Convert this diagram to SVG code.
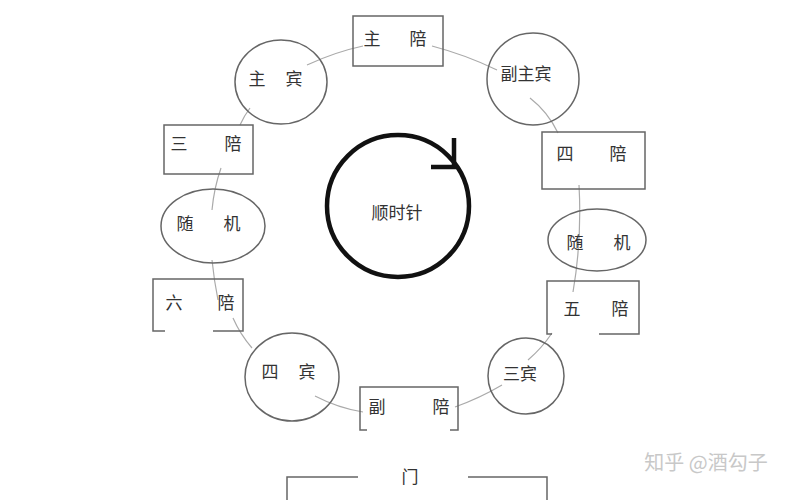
<svg xmlns="http://www.w3.org/2000/svg" width="800" height="500" viewBox="0 0 800 500">
<style>
.n{fill:none;stroke:#666;stroke-width:1.5}
.t{font-family:"Noto Sans CJK SC","Liberation Sans",sans-serif;font-size:17px;fill:#333;text-anchor:middle;dominant-baseline:central}
.c{fill:none;stroke:#aaa;stroke-width:1.2}
</style>
<rect width="800" height="500" fill="#fff"/>
<g id="connectors">
<path class="c" d="M307,65 Q335,52 363,46"/>
<path class="c" d="M432,46 Q466,55 497,70"/>
<path class="c" d="M530,98 Q548,112 558,133"/>
<path class="c" d="M579,185 Q582,240 573,292"/>
<path class="c" d="M552,333 Q542,348 528,360"/>
<path class="c" d="M502,385 Q480,398 455,407"/>
<path class="c" d="M363,412 Q338,408 315,396"/>
<path class="c" d="M252,348 Q240,334 233,318"/>
<path class="c" d="M218,300 Q214,280 212,260"/>
<path class="c" d="M212,210 Q214,188 221,168"/>
<path class="c" d="M240,125 Q244,116 250,108"/>
</g>
<g id="zhupei"><rect class="n" x="353" y="16" width="90" height="50"/><text class="t" x="372" y="37">主</text><text class="t" x="418" y="37">陪</text></g>
<g id="zhubin"><ellipse class="n" cx="281" cy="82" rx="46" ry="42"/><text class="t" x="257" y="77">主</text><text class="t" x="294" y="77">宾</text></g>
<g id="fuzhubin"><circle class="n" cx="533" cy="79" r="46"/><text class="t" x="526" y="72">副主宾</text></g>
<g id="sanpei"><rect class="n" x="164" y="125" width="89" height="49"/><text class="t" x="179" y="142">三</text><text class="t" x="233" y="142">陪</text></g>
<g id="sipei"><rect class="n" x="542" y="132" width="103" height="57"/><text class="t" x="565" y="152">四</text><text class="t" x="618" y="152">陪</text></g>
<g id="suiji-left"><ellipse class="n" cx="213" cy="226" rx="52" ry="37"/><text class="t" x="185" y="222">随</text><text class="t" x="232" y="222">机</text></g>
<g id="suiji-right"><ellipse class="n" cx="597" cy="240" rx="49" ry="31"/><text class="t" x="575" y="241">随</text><text class="t" x="622" y="241">机</text></g>
<g id="liupei"><path class="n" d="M165,331 H153 V279 H243 V331 H213"/><text class="t" x="174" y="301">六</text><text class="t" x="226" y="301">陪</text></g>
<g id="wupei"><path class="n" d="M552,334 H547 V281 H639 V334 H599"/><text class="t" x="572" y="307">五</text><text class="t" x="620" y="307">陪</text></g>
<g id="sibin"><ellipse class="n" cx="292" cy="377" rx="47" ry="44"/><text class="t" x="270" y="370">四</text><text class="t" x="307" y="370">宾</text></g>
<g id="sanbin"><circle class="n" cx="526" cy="376" r="38"/><text class="t" x="520" y="372">三宾</text></g>
<g id="fupei"><path class="n" d="M367,430 H360 V387 H458 V430 H450"/><text class="t" x="377" y="405">副</text><text class="t" x="441" y="405">陪</text></g>
<g id="men"><path class="n" d="M287,500 V477 H358 M468,477 H547 V500"/><text class="t" x="410" y="475">门</text></g>
<g id="clockwise"><circle cx="398" cy="206" r="71" fill="none" stroke="#111" stroke-width="4.5"/><path d="M454,138 V167 H431" fill="none" stroke="#111" stroke-width="4.5"/><text class="t" x="397" y="211" fill="#222">顺时针</text></g>
<text x="706" y="470" font-family="Noto Sans CJK SC,sans-serif" font-size="20" fill="#c8c8c8" text-anchor="middle">知乎 @酒勾子</text>
</svg>
